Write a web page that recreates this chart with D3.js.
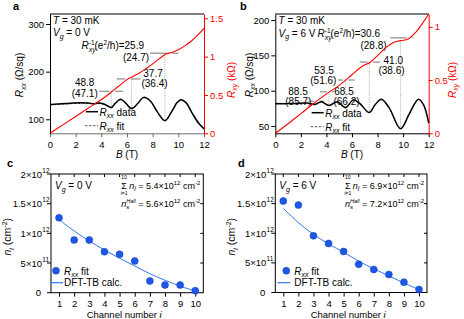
<!DOCTYPE html>
<html>
<head>
<meta charset="utf-8">
<script src="https://cdn.jsdelivr.net/npm/d3@7"></script>
<style>
  body { margin: 0; background: #fff; }
  svg { display: block; font-family: "Liberation Sans", Arial, Helvetica, sans-serif; }
</style>
</head>
<body>
<svg id="fig" width="464" height="319"></svg>
<script>
// ---- data ----
const bTicks = [0, 2, 4, 6, 8, 10, 12];

// a: Vg = 0 V
const bA      = [0, 0.6, 1.2, 1.8, 2.4, 3.0, 3.4, 3.8, 4.2, 4.5, 4.77, 5.1, 5.5, 5.9, 6.35, 6.8, 7.3, 7.8, 8.4, 8.95, 9.5, 9.9, 10.2, 10.6, 11.1, 11.6, 12];
const rxxA    = [131, 132, 133, 134, 134.5, 134, 132.5, 134, 132, 128, 124.5, 134, 142, 134, 122.5, 132, 146, 139, 114, 97, 117, 135, 141, 135, 112, 91, 80];
const rxxFitA = [130, 131, 132, 133, 133.5, 133.5, 133, 133, 131, 127.5, 125.5, 133, 141, 133.5, 123, 131.5, 145, 138.5, 114, 98, 117, 134.5, 140, 134, 112, 92, 81];
const bxyA    = [0, 1, 2, 3, 4, 4.5, 5, 5.5, 6, 6.5, 7, 7.5, 8, 8.5, 9, 9.5, 10, 10.5, 11, 11.5, 12];
const rxyA    = [0, 0.11, 0.22, 0.33, 0.44, 0.50, 0.57, 0.635, 0.70, 0.745, 0.79, 0.845, 0.905, 0.97, 1.03, 1.055, 1.09, 1.14, 1.2, 1.28, 1.37];
const nuA     = ['48.8', '37.7', '25.9'];
const nuFitA  = [47.1, 36.4, 24.7];
const dipA    = [4.77, 6.35, 8.95];
const segA    = [[3.85, 5.7], [5.2, 7.05], [7.8, 10.0]];
const rxxTicksA = [100, 200, 300];
const rxyTicksA = [0, 0.5, 1, 1.5];

// b: Vg = 6 V
const bB      = [0, 0.5, 1, 1.5, 2, 2.5, 3.1, 3.6, 4.2, 4.85, 5.5, 6.1, 6.6, 7.35, 7.8, 8.3, 8.9, 9.8, 10.5, 11.2, 11.6, 12];
const rxxB    = [81.5, 81.5, 81.8, 82, 82.3, 82.5, 80.5, 84.5, 79, 84.5, 76, 87, 82, 69, 80, 88, 76, 46, 68, 88, 80, 54];
const rxxFitB = [82.5, 82, 82, 82, 82, 82, 81, 84, 79.5, 84, 76.5, 86.5, 82, 69.5, 80, 87.5, 76, 46.5, 68, 87.5, 80, 55];
const bxyB    = [0, 1, 2, 3, 4, 5, 6, 6.8, 7.4, 8, 8.6, 9.2, 9.8, 10.4, 11, 11.5, 12];
const rxyB    = [0, 0.09, 0.185, 0.28, 0.37, 0.45, 0.55, 0.63, 0.665, 0.73, 0.80, 0.85, 0.87, 0.885, 0.95, 1.03, 1.12];
const nuB     = ['88.5', '68.5', '53.5', '41.0', '30.6'];
const nuFitB  = [85.7, 66.2, 51.6, 38.6, 28.8];
const dipB    = [3.1, 4.2, 5.5, 7.35, 9.8];
const segB    = [[2.6, 3.8], [3.5, 4.6], [4.9, 6.2], [6.6, 8.2], [9.0, 10.8]];
const rxxTicksB = [50, 100, 150, 200];
const rxyTicksB = [0, 0.5, 1];

// c, d: channel densities (units of 1e12 cm^-2)
const channels = [1, 2, 3, 4, 5, 6, 7, 8, 9, 10];
const nFitC  = [1.264, 0.888, 0.888, 0.691, 0.647, 0.534, 0.197, 0.13, 0.13, 0.034];
const nCalcC = [1.23, 1.04, 0.87, 0.72, 0.58, 0.45, 0.32, 0.21, 0.11, 0.03];
const nFitD  = [1.543, 1.476, 0.957, 0.828, 0.693, 0.478, 0.389, 0.304, 0.174, 0.051];
const nCalcD = [1.42, 1.18, 0.98, 0.82, 0.68, 0.53, 0.40, 0.28, 0.16, 0.05];
const nTicks    = [0, 0.5, 1, 1.5, 2];
const nTickMant = ['0', '5', '1', '1.5', '2'];
const nTickExp  = ['', '11', '12', '12', '12'];

const RK = 25.813;   // h/e^2 in kOhm
const RED = '#ff0000';
const BLUE = '#1e56e6';

const svg = d3.select('#fig');

// text with sub/superscripts
function addText(g, x, y, parts, opt = {}) {
  const t = g.append('text').attr('x', x).attr('y', y)
    .attr('font-size', opt.fs || 10)
    .attr('fill', opt.fill || '#000')
    .attr('text-anchor', opt.anchor || 'start');
  if (opt.rot) t.attr('transform', `rotate(${opt.rot},${x},${y})`);
  if (opt.bold) t.attr('font-weight', 'bold');
  if (typeof parts === 'string') parts = [{ t: parts }];
  let off = 0;
  parts.forEach(p => {
    const target = p.sub ? 2.6 : p.sup ? -4 : 0;
    const ts = t.append('tspan').attr('dy', target - off).text(p.t);
    if (p.dx) ts.attr('dx', p.dx);
    if (p.sub || p.sup) ts.attr('font-size', p.fs || 7);
    if (p.i) ts.attr('font-style', 'italic');
    off = target;
  });
  return t;
}

function interp(xs, ys, v) {
  const i = Math.max(1, Math.min(xs.length - 1, d3.bisectLeft(xs, v)));
  const t = (v - xs[i - 1]) / (xs[i] - xs[i - 1]);
  return ys[i - 1] + t * (ys[i] - ys[i - 1]);
}
function crossing(xs, ys, level) {
  for (let i = 1; i < ys.length; i++) {
    if (ys[i] >= level) return xs[i - 1] + (level - ys[i - 1]) / (ys[i] - ys[i - 1]) * (xs[i] - xs[i - 1]);
  }
  return xs[xs.length - 1];
}

function styleAxis(g, color) {
  g.selectAll('text').attr('font-size', 9.5).attr('fill', color).attr('font-family', null);
  g.selectAll('line').attr('stroke', color);
  g.select('.domain').attr('stroke', color);
}

// ---------- a / b ----------
function hallPanel(o) {
  const g = svg.append('g');
  const x = d3.scaleLinear().domain([0, 12]).range([o.x0, o.x1]);
  const yL = d3.scaleLinear().domain(o.left).range([o.y1, o.y0]);
  const yR = d3.scaleLinear().domain(o.right).range([o.y1, o.y0]);

  // frame + axes
  g.append('line').attr('x1', o.x0).attr('x2', o.x1).attr('y1', o.y0).attr('y2', o.y0)
    .attr('stroke', '#000').attr('stroke-width', 1);
  const ax = g.append('g').attr('transform', `translate(0,${o.y1})`)
    .call(d3.axisBottom(x).tickValues(bTicks).tickSize(4).tickSizeOuter(0).tickPadding(3.5));
  styleAxis(ax, '#000');
  ax.select('.domain').attr('stroke', o.bottomColor);
  ax.selectAll('line').attr('stroke', o.bottomColor);
  const al = g.append('g').attr('transform', `translate(${o.x0},0)`)
    .call(d3.axisLeft(yL).tickValues(o.leftTicks).tickSize(4).tickSizeOuter(0).tickPadding(2));
  styleAxis(al, '#000');
  const ar = g.append('g').attr('transform', `translate(${o.x1},0)`)
    .call(d3.axisRight(yR).tickValues(o.rightTicks).tickSize(4).tickSizeOuter(0).tickPadding(2).tickFormat(d => String(d)));
  styleAxis(ar, RED);

  // plateau markers
  o.nuFit.forEach((f, i) => {
    const lvl = RK / f;
    const bc = crossing(o.bxy, o.rxy, lvl);
    const gap = 0.22;
    const segs = [[o.seg[i][0], bc - gap], [bc + gap, o.seg[i][1]]].filter(s => s[1] > s[0]);
    segs.forEach(s => g.append('line')
      .attr('x1', x(s[0])).attr('x2', x(s[1])).attr('y1', yR(lvl)).attr('y2', yR(lvl))
      .attr('stroke', '#8a8a8a').attr('stroke-width', 1.2));
    g.append('line')
      .attr('x1', x(o.dip[i])).attr('x2', x(o.dip[i]))
      .attr('y1', yR(lvl)).attr('y2', yL(interp(o.b, o.rxx, o.dip[i])))
      .attr('stroke', '#a0a0a0').attr('stroke-width', 0.9).attr('stroke-dasharray', '1,1.2');
  });

  const lineL = d3.line().x(d => x(d[0])).y(d => yL(d[1])).curve(d3.curveCatmullRom.alpha(0.5));
  const lineR = d3.line().x(d => x(d[0])).y(d => yR(d[1])).curve(d3.curveCatmullRom.alpha(0.5));
  g.append('path').attr('d', lineL(d3.zip(o.b, o.rxxFit)))
    .attr('fill', 'none').attr('stroke', '#555').attr('stroke-width', 1).attr('stroke-dasharray', '2.5,1.5');
  g.append('path').attr('d', lineL(d3.zip(o.b, o.rxx)))
    .attr('fill', 'none').attr('stroke', '#000').attr('stroke-width', 1.5);

  // labels
  addText(g, o.tx, o.ty, [{ t: 'T', i: true }, { t: ' = 30 mK' }]);
  addText(g, o.tx, o.ty + 12.5, [{ t: 'V', i: true }, { t: 'g', sub: true, i: true }, { t: ` = ${o.vg} V` }]);
  addText(g, o.hx, o.hy, [{ t: 'R', i: true }, { t: 'xy', sub: true, i: true }, { t: '-1', sup: true, dx: -7, fs: 6.5 },
    { t: '(e' }, { t: '2', sup: true, fs: 6.5 }, { t: '/h)=' + o.nu[o.nu.length - 1] }]);
  o.lab.forEach((p, i) => {
    if (p[2] !== null) addText(g, p[0], p[1], o.nu[i], { anchor: 'middle' });
    addText(g, p[2] === null ? p[0] : p[2], p[3], '(' + o.nuFit[i].toFixed(1) + ')', { anchor: 'middle' });
  });

  // legend
  g.append('line').attr('x1', o.lx).attr('x2', o.lx + 12).attr('y1', o.ly).attr('y2', o.ly)
    .attr('stroke', '#000').attr('stroke-width', 1.5);
  addText(g, o.lx + 13.5, o.ly + 3.8, [{ t: 'R', i: true }, { t: 'xx', sub: true, i: true }, { t: ' data' }]);
  g.append('line').attr('x1', o.lx - 1).attr('x2', o.lx + 12).attr('y1', o.ly + 14).attr('y2', o.ly + 14)
    .attr('stroke', '#555').attr('stroke-width', 1).attr('stroke-dasharray', '2.5,1.5');
  addText(g, o.lx + 13.5, o.ly + 17.8, [{ t: 'R', i: true }, { t: 'xx', sub: true, i: true }, { t: ' fit' }]);

  g.append('path').attr('d', lineR(d3.zip(o.bxy, o.rxy)))
    .attr('fill', 'none').attr('stroke', RED).attr('stroke-width', 1.1);

  // axis titles
  addText(g, (o.x0 + o.x1) / 2, 158, [{ t: 'B', i: true }, { t: ' (T)' }], { anchor: 'middle' });
  addText(g, o.ltx, 75, [{ t: 'R', i: true }, { t: 'xx', sub: true, i: true }, { t: ' (Ω/sq)' }], { anchor: 'middle', rot: -90 });
  addText(g, o.rtx, 80, [{ t: 'R', i: true }, { t: 'xy', sub: true, i: true }, { t: ' (kΩ)' }], { anchor: 'middle', rot: -90, fill: RED });
  addText(g, o.px, 10, o.letter, { fs: 11, bold: true });
}

hallPanel({
  x0: 50, x1: 204, y0: 14, y1: 133.3, left: [70.6, 321], right: [0, 1.556],
  leftTicks: rxxTicksA, rightTicks: rxyTicksA, bottomColor: '#6e6e6e',
  b: bA, rxx: rxxA, rxxFit: rxxFitA, bxy: bxyA, rxy: rxyA,
  nu: nuA, nuFit: nuFitA, dip: dipA, seg: segA, vg: 0,
  tx: 53, ty: 23.5, hx: 81.5, hy: 49,
  lab: [[84.7, 86, 84.7, 96.5], [153, 77, 154.5, 87], [null, 0, 136, 60.5]],
  lx: 86, ly: 111.7, ltx: 23, rtx: 234.5, px: 13, letter: 'a'
});

hallPanel({
  x0: 275.3, x1: 428.7, y0: 14, y1: 133.3, left: [39.7, 208.5], right: [0, 1.12],
  leftTicks: rxxTicksB, rightTicks: rxyTicksB, bottomColor: '#000',
  b: bB, rxx: rxxB, rxxFit: rxxFitB, bxy: bxyB, rxy: rxyB,
  nu: nuB, nuFit: nuFitB, dip: dipB, seg: segB, vg: 6,
  tx: 278.5, ty: 24, hx: 317.5, hy: 37,
  lab: [[298, 95, 298.3, 105], [344, 95, 346.5, 105], [324, 73.5, 323.3, 83.5], [393.3, 63.5, 391.5, 73.5], [null, 0, 373.5, 48.5]],
  lx: 311.7, ly: 112.7, ltx: 252.5, rtx: 455.5, px: 240, letter: 'b'
});

// ---------- c / d ----------
function densPanel(o) {
  const g = svg.append('g');
  const x = d3.scaleLinear().domain([0.47, 10.53]).range([o.x0, o.x1]);
  const y = d3.scaleLinear().domain([0, 2]).range([o.y1, o.y0]);

  g.append('rect').attr('x', o.x0).attr('y', o.y0).attr('width', o.x1 - o.x0).attr('height', o.y1 - o.y0)
    .attr('fill', 'none').attr('stroke', '#000').attr('stroke-width', 1);
  const ax = g.append('g').attr('transform', `translate(0,${o.y1})`)
    .call(d3.axisBottom(x).tickValues(channels).tickSize(4).tickSizeOuter(0).tickPadding(3.5));
  styleAxis(ax, '#000');
  ax.select('.domain').remove();
  channels.forEach(c => g.append('line').attr('x1', x(c)).attr('x2', x(c)).attr('y1', o.y0).attr('y2', o.y0 + 3)
    .attr('stroke', '#000'));
  nTicks.forEach((v, i) => {
    g.append('line').attr('x1', o.x0 - 4).attr('x2', o.x0).attr('y1', y(v)).attr('y2', y(v)).attr('stroke', '#000');
    if (v > 0 && v < 2) g.append('line').attr('x1', o.x1 - 3).attr('x2', o.x1).attr('y1', y(v)).attr('y2', y(v)).attr('stroke', '#000');
    const parts = nTickExp[i] ? [{ t: nTickMant[i] + '×10' }] : [{ t: nTickMant[i] }];
    addText(g, o.x0 - (nTickExp[i] ? 9 : 10), y(v) + 3.5, parts, { fs: 9.5, anchor: 'end' });
    if (nTickExp[i]) addText(g, o.x0 - 8.7, y(v) - 1.5, nTickExp[i], { fs: 6.5 });
  });

  const line = d3.line().x((d, i) => x(channels[i])).y(d => y(d)).curve(d3.curveCatmullRom.alpha(0.5));
  g.append('path').attr('d', line(o.calc)).attr('fill', 'none').attr('stroke', '#2f78f0').attr('stroke-width', 1);
  g.selectAll('circle.pt').data(o.fit).join('circle').attr('class', 'pt')
    .attr('cx', (d, i) => x(channels[i])).attr('cy', d => y(d)).attr('r', 3.5)
    .attr('fill', BLUE).attr('stroke', '#1040b8').attr('stroke-width', 0.5);

  // annotations
  addText(g, o.x0 + 4, 189, [{ t: 'V', i: true }, { t: 'g', sub: true, i: true }, { t: ` = ${o.vg} V` }]);
  const s = addText(g, o.x1 - 3, 188.5, [{ t: 'n', i: true }, { t: 'i', sub: true, i: true },
    { t: ` = ${o.sum}×10` }, { t: '12', sup: true, fs: 6 }, { t: ' cm' }, { t: '-2', sup: true, fs: 6 }], { fs: 9, anchor: 'end' });
  const sx = o.x1 - 3 - s.node().getComputedTextLength();
  addText(g, sx - 5, 189, 'Σ', { fs: 9, anchor: 'middle' });
  addText(g, sx - 5, 179.3, '10', { fs: 5, anchor: 'middle' });
  addText(g, sx - 5, 195, 'i=1', { fs: 5, anchor: 'middle' });
  addText(g, o.x1 - 3, 206.5, [{ t: 'n', i: true }, { t: 's', sub: true, i: true, fs: 6 }, { t: 'Hall', sup: true, i: true, fs: 5.5, dx: -3 },
    { t: ` = ${o.hall}×10` }, { t: '12', sup: true, fs: 6 }, { t: ' cm' }, { t: '-2', sup: true, fs: 6 }], { fs: 9, anchor: 'end' });

  // legend
  g.append('circle').attr('cx', o.x0 + o.ldot).attr('cy', 270.7).attr('r', 3.5)
    .attr('fill', BLUE).attr('stroke', '#1040b8').attr('stroke-width', 0.5);
  addText(g, o.x0 + o.ltext, 274.5, [{ t: 'R', i: true }, { t: 'xx', sub: true, i: true }, { t: ' fit' }]);
  g.append('line').attr('x1', o.x0 + o.lline).attr('x2', o.x0 + o.lline + 13).attr('y1', 282.7).attr('y2', 282.7)
    .attr('stroke', '#2f78f0').attr('stroke-width', 1.2);
  addText(g, o.x0 + o.ltext, 286.3, 'DFT-TB calc.');

  addText(g, (o.x0 + o.x1) / 2 - 3, 317.5, [{ t: 'Channel number ' }, { t: 'i', i: true }], { fs: 9.5, anchor: 'middle' });
  addText(g, o.ytx, 236.7, [{ t: 'n', i: true }, { t: 'i', sub: true, i: true }, { t: ' (cm' }, { t: '-2', sup: true }, { t: ')' }],
    { fs: 10.5, anchor: 'middle', rot: -90 });
  addText(g, o.px, 167, o.letter, { fs: 11, bold: true });
}

densPanel({
  x0: 51, x1: 203.3, y0: 174, y1: 292.7, fit: nFitC, calc: nCalcC, vg: 0, sum: '5.4', hall: '5.6',
  ldot: 5, ltext: 13, lline: -1, ytx: 11, px: 7, letter: 'c'
});
densPanel({
  x0: 275.3, x1: 427, y0: 174, y1: 292.5, fit: nFitD, calc: nCalcD, vg: 6, sum: '6.9', hall: '7.2',
  ldot: 11, ltext: 19, lline: 2, ytx: 235, px: 238, letter: 'd'
});
</script>
</body>
</html>
